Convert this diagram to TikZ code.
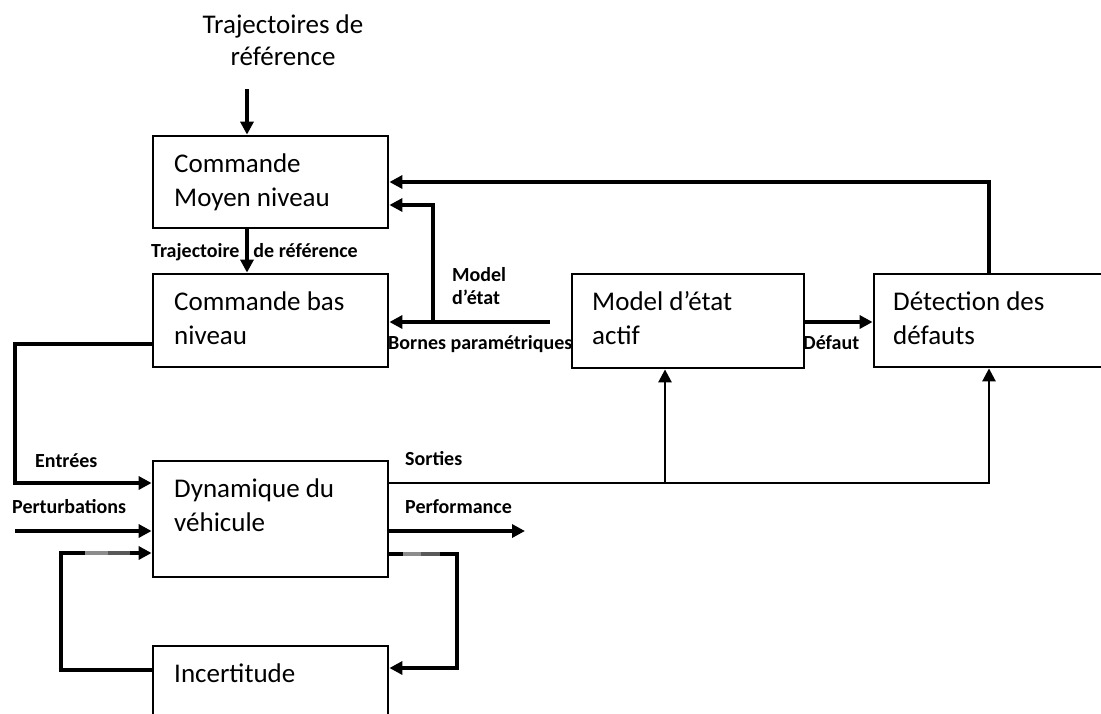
\documentclass[tikz,border=0pt]{standalone}
\usepackage{fontspec}
\setmainfont{Carlito}
\usetikzlibrary{arrows.meta}
\begin{document}
\begin{tikzpicture}[x=1pt,y=-1pt,
  box/.style={draw, line width=2.8pt, rectangle, inner sep=0pt},
  txt/.style={font=\fontsize{27}{34}\selectfont, anchor=base west, inner sep=0pt, text width=220pt, align=flush left},
  lab/.style={font=\bfseries\fontsize{20}{23}\selectfont, anchor=base west, inner sep=0pt},
  conn/.style={line width=3.4pt, -{Triangle[length=13pt,width=13pt]}},
  plainline/.style={line width=3.4pt},
  thinline/.style={line width=2.6pt},
]
\useasboundingbox (0,0) rectangle (1101,713);
\clip (0,0) rectangle (1101,713);

% boxes
\node[box, minimum width=235pt, minimum height=92pt] (moy) at (270.5,182) {};
\node[box, minimum width=235pt, minimum height=93pt] (bas) at (270.5,320.5) {};
\node[box, minimum width=232pt, minimum height=94pt] (mod) at (688,321) {};
\node[box, minimum width=234pt, minimum height=93pt] (det) at (991,320.5) {};
\node[box, minimum width=235pt, minimum height=116pt] (dyn) at (270.5,519) {};
\node[box, minimum width=235pt, minimum height=108pt] (inc) at (270.5,700) {};

% box texts
\node[txt] (tmoy) at (174,172) {Commande\\Moyen niveau};
\node[txt] (tbas) at (174,310) {Commande bas\\niveau};
\node[txt] (tmod) at (592,310) {Model d’état\\actif};
\node[txt] (tdet) at (893,310) {Détection des\\défauts};
\node[txt] (tdyn) at (174,497) {Dynamique du\\véhicule};
\node[txt] (tinc) at (174,682) {Incertitude};

% top text
\node[font=\fontsize{27}{32}\selectfont, anchor=base, inner sep=0pt, text width=220pt, align=flush center] (trj) at (283,33) {Trajectoires de\\référence};

% coordinates
\coordinate (t1) at (247,89);
\coordinate (fb) at (989,182);
\coordinate (bp) at (550,322);
\coordinate (jn) at (433,322);
\coordinate (me) at (433,205);
\coordinate (l1) at (15,344);
\coordinate (l2) at (15,483);
\coordinate (p0) at (15,531);
\coordinate (u1) at (61,670);
\coordinate (u2) at (61,553);
\coordinate (s1) at (665,483);
\coordinate (s2) at (989,483);
\coordinate (pf) at (525,531);
\coordinate (r1) at (457,554);
\coordinate (r2) at (457,668);

% connectors
\draw[conn] (t1) -- (t1 |- moy.north);
\draw[conn] (moy.south -| t1) -- (bas.north -| t1);
\draw[conn] (det.north -| fb) -- (fb) -- (fb -| moy.east);
\draw[conn] (bp) -- (bp -| bas.east);
\draw[conn] (jn) -- (me) -- (me -| moy.east);
\draw[conn] (mod.east |- bp) -- (det.west |- bp);
\draw[conn] (l1 -| bas.west) -- (l1) -- (l2) -- (l2 -| dyn.west);
\draw[conn] (p0) -- (p0 -| dyn.west);
\draw[conn] (u1 -| inc.west) -- (u1) -- (u2) -- (u2 -| dyn.west);
\draw[thinline, -{Triangle[length=13pt,width=13pt]}] (s1 -| dyn.east) -- (s2) -- (s2 |- det.south);
\draw[thinline, -{Triangle[length=13pt,width=13pt]}] (s1) -- (s1 |- mod.south);
\draw[conn] (pf -| dyn.east) -- (pf);
\draw[conn] (r1 -| dyn.east) -- (r1) -- (r2) -- (r2 -| inc.east);

% grey marks on the loop lines
\draw[plainline, black!45] (85,553) -- (108,553);
\draw[plainline, black!65] (108,553) -- (130,553);
\draw[plainline, black!45] (403,554) -- (421,554);
\draw[plainline, black!65] (421,554) -- (440,554);

% labels
\node[lab] (ltr) at (151,257) {Trajectoire\hspace{14pt}de référence};
\node[lab, align=flush left, text width=80pt] (lme) at (452,281) {Model\\d’état};
\node[lab] (lbp) at (388,349) {Bornes paramétriques};
\node[lab] (ldf) at (803,349) {Défaut};
\node[lab] (len) at (35,467) {Entrées};
\node[lab] (lpe) at (12,513) {Perturbations};
\node[lab] (lso) at (405,465) {Sorties};
\node[lab] (lpf) at (405,513) {Performance};
\end{tikzpicture}
\end{document}
